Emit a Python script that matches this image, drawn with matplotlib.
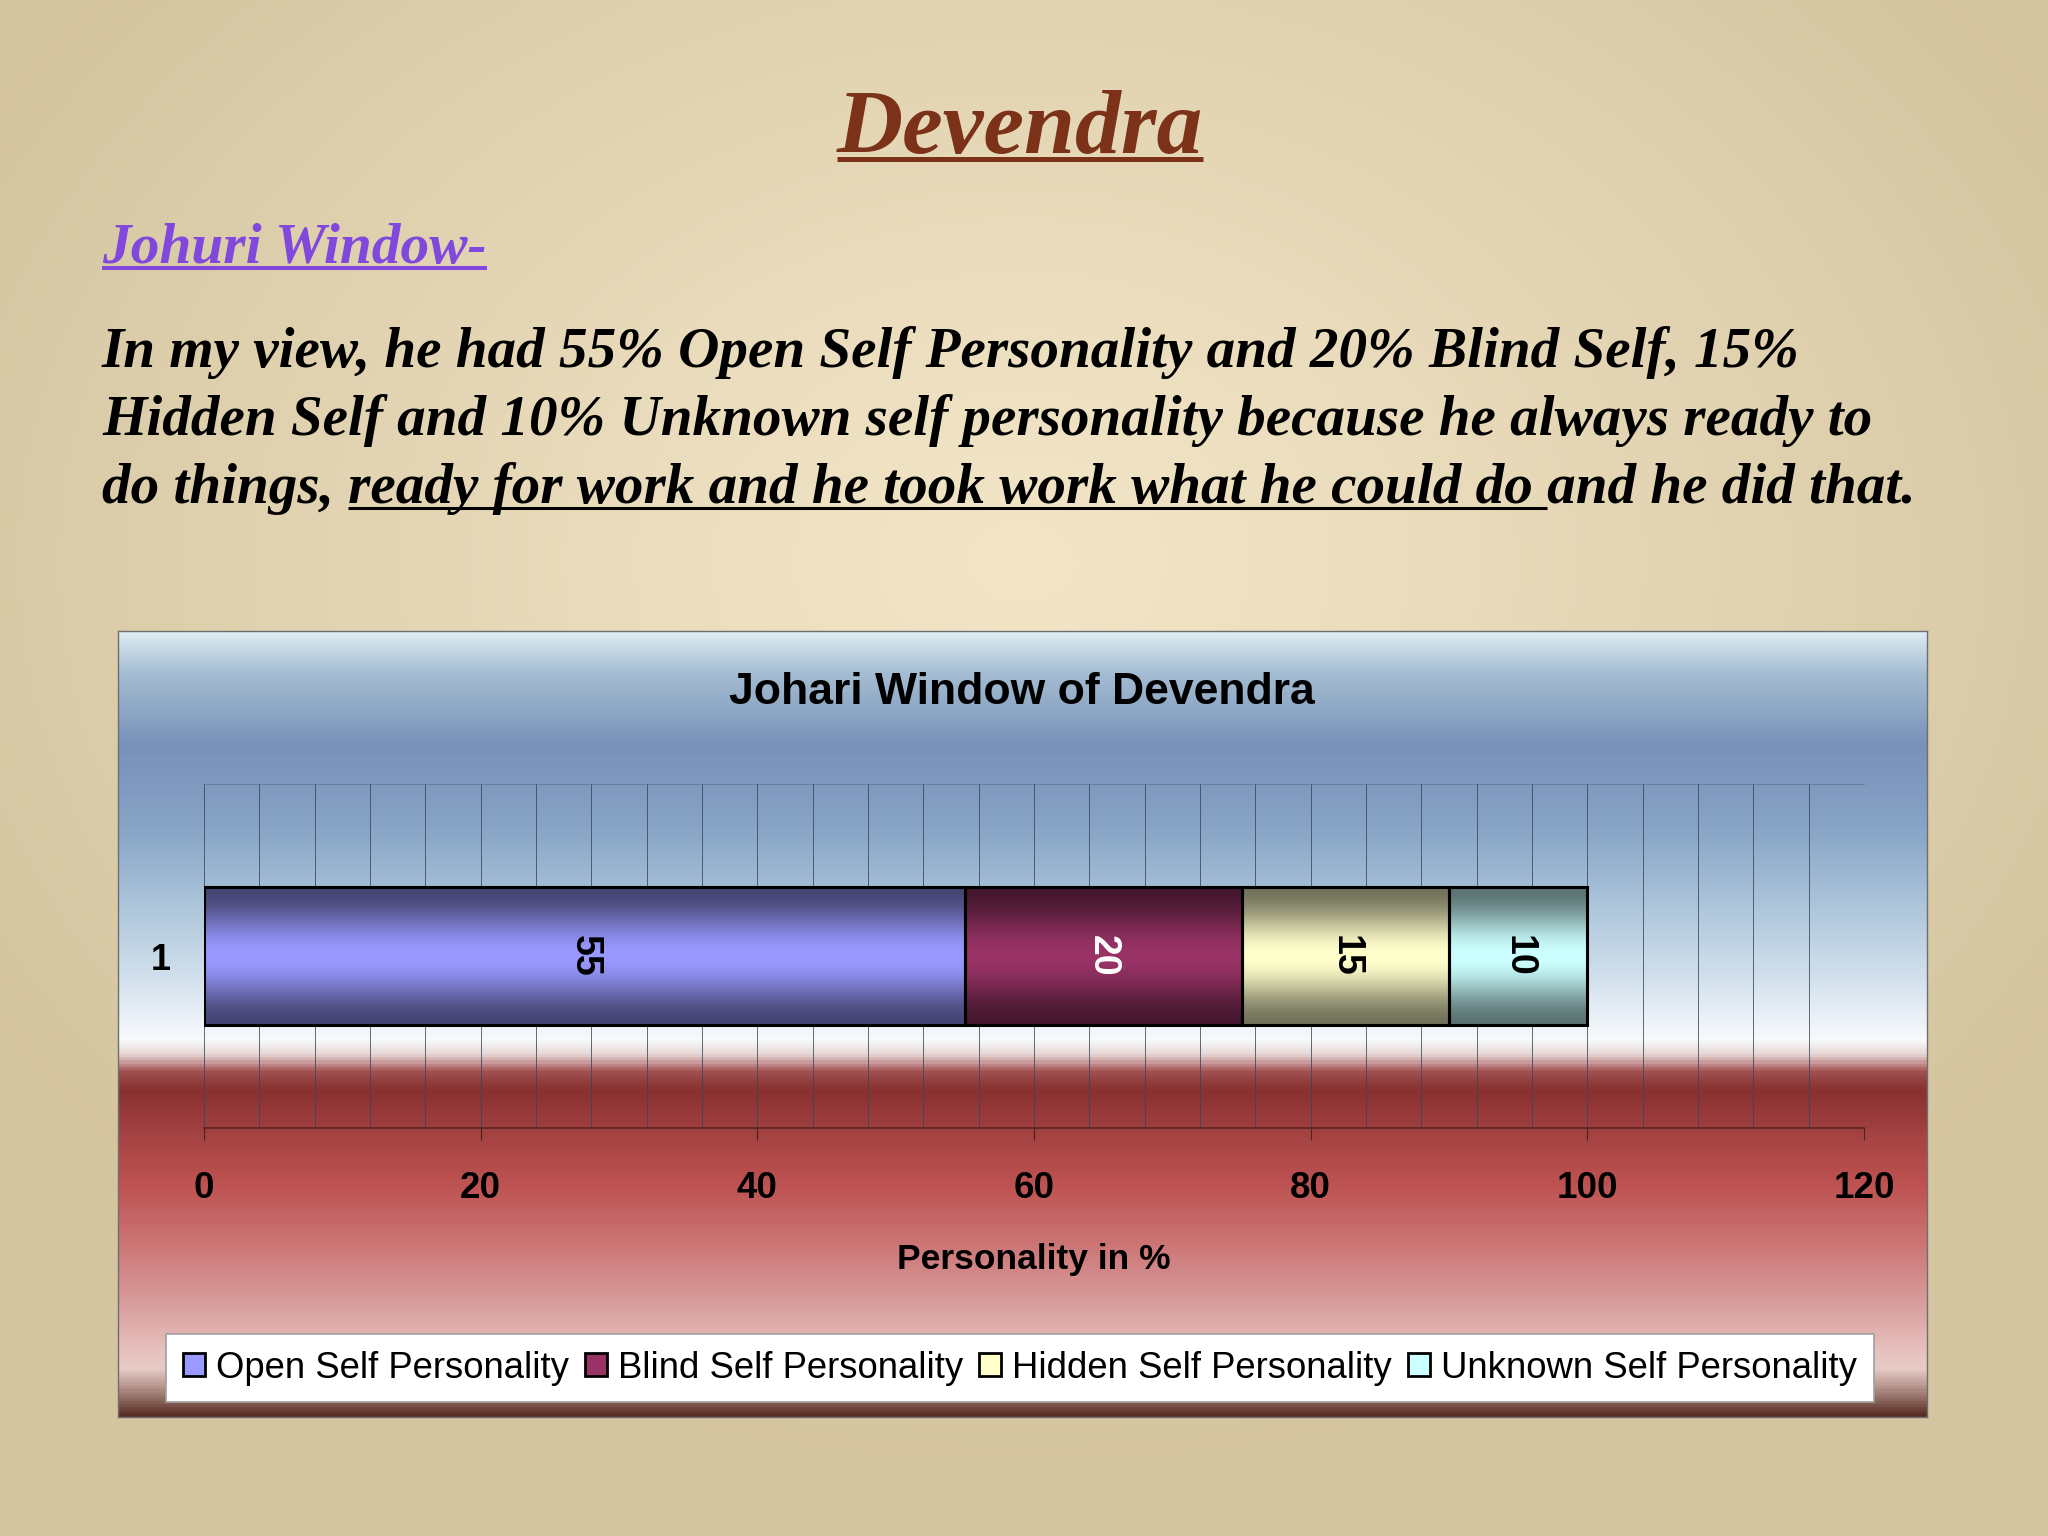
import numpy as np
import matplotlib
matplotlib.use('Agg')
import matplotlib.pyplot as plt
from matplotlib.colors import LinearSegmentedColormap, to_rgb
from matplotlib.lines import Line2D
from matplotlib.ticker import MultipleLocator

# ---- data ----
categories = ['1']
series = ['Open Self Personality', 'Blind Self Personality',
          'Hidden Self Personality', 'Unknown Self Personality']
values = [55, 20, 15, 10]
bar_colors = ['#9999FF', '#993366', '#FFFFCC', '#CCFFFF']
label_colors = ['black', 'white', 'black', 'black']
x_ticks = [0, 20, 40, 60, 80, 100, 120]

page_title = 'Devendra'
subtitle = 'Johuri Window-'
para_lines = [
    'In my view, he had 55% Open Self Personality and 20% Blind Self, 15%',
    'Hidden Self and 10% Unknown self personality because he always ready to',
    'do things, ready for work and he took work what he could do and he did that.',
]
underlined_part = 'ready for work and he took work what he could do '
chart_title = 'Johari Window of Devendra'
x_label = 'Personality in %'

W, H = 2048, 1536
fig = plt.figure(figsize=(W / 100, H / 100), dpi=100)


def fx(px):
    return px / W


def fy(py):
    return 1 - py / H


# ---- page background (soft radial beige) ----
ax_page = fig.add_axes([0, 0, 1, 1], zorder=-10)
yy, xx = np.mgrid[0:H:4, 0:W:4]
d = np.sqrt(((xx - 1020) / 1200.0) ** 2 + ((yy - 560) / 900.0) ** 2)
d = np.clip(d, 0, 1) ** 1.1
c_in = np.array(to_rgb('#F3E6C8'))
c_out = np.array(to_rgb('#D4C5A0'))
bg = c_in[None, None, :] * (1 - d[..., None]) + c_out[None, None, :] * d[..., None]
ax_page.imshow(bg, extent=[0, 1, 0, 1], aspect='auto', interpolation='bilinear')
ax_page.axis('off')

# ---- chart area background gradient ----
box_l, box_r, box_t, box_b = 118, 1927, 631, 1417
ax_bg = fig.add_axes([fx(box_l), fy(box_b), (box_r - box_l) / W, (box_b - box_t) / H], zorder=-5)
stops = [
    (0.000, '#DDEBF3'), (0.052, '#A4BDD2'), (0.144, '#7891B9'), (0.249, '#87A4C6'),
    (0.354, '#AFC7DC'), (0.447, '#D5E2EE'), (0.520, '#F8FAFC'), (0.540, '#E6D4D2'),
    (0.560, '#A25252'), (0.584, '#883030'), (0.648, '#A84444'), (0.705, '#BE5252'),
    (0.775, '#CB7272'), (0.859, '#D99E9E'), (0.915, '#E6C0BC'), (0.940, '#E8CCC8'),
    (0.960, '#BFA098'), (1.000, '#5A3026'),
]
cmap = LinearSegmentedColormap.from_list('chartbg', stops)
grad = np.linspace(0, 1, 800)[:, None]
ax_bg.imshow(grad, cmap=cmap, aspect='auto', extent=[0, 1, 0, 1], interpolation='bilinear')
ax_bg.set_xticks([])
ax_bg.set_yticks([])
for sp in ax_bg.spines.values():
    sp.set_color('#6E6E6E')
    sp.set_linewidth(1.0)

# ---- main axes ----
ax = fig.add_axes([fx(204), fy(1128), (1864 - 204) / W, (1128 - 784) / H], zorder=1)
ax.set_facecolor('none')

bar_h = 0.4
lefts = np.concatenate([[0], np.cumsum(values)[:-1]])
containers = []
for name, v, left, col in zip(series, values, lefts, bar_colors):
    c = ax.barh(categories, [v], left=[left], height=bar_h, color=col,
                edgecolor='black', linewidth=2, label=name, zorder=2)
    containers.append(c)

# cylinder shading on each bar, clipped to the bar
t = np.linspace(0, 1, 200)
shade = 0.45 + 0.55 * np.sin(np.pi * t) ** 2
for c, col in zip(containers, bar_colors):
    rgb = np.array(to_rgb(col))
    img = (shade[:, None, None] * rgb[None, None, :])
    for p in c.patches:
        x0, y0 = p.get_x(), p.get_y()
        im = ax.imshow(img, extent=[x0, x0 + p.get_width(), y0, y0 + p.get_height()],
                       aspect='auto', zorder=2.5, interpolation='bilinear')
        im.set_clip_path(p)

# crisp outlines on top
for v, left in zip(values, lefts):
    ax.barh(categories, [v], left=[left], height=bar_h, fill=False,
            edgecolor='black', linewidth=2.2, zorder=3)

for c, v, lc in zip(containers, values, label_colors):
    ax.bar_label(c, labels=[str(v)], label_type='center', rotation=270,
                 fontsize=27, fontweight='bold', color=lc, family='Liberation Sans', zorder=4)

ax.set_xlim(0, 120)
ax.set_ylim(-0.5, 0.5)
ax.set_xticks(x_ticks)
ax.xaxis.set_minor_locator(MultipleLocator(4))
ax.set_axisbelow(True)
ax.grid(which='both', axis='x', color='#34465A', linewidth=0.7, alpha=0.8, zorder=0)
ax.tick_params(axis='x', which='major', length=8.6, width=0.8, color='#4A2020',
               pad=22, labelsize=26.5)
ax.tick_params(axis='x', which='minor', length=0)
ax.tick_params(axis='y', length=0, pad=24, labelsize=26)
for lab in ax.get_xticklabels() + ax.get_yticklabels():
    lab.set_fontweight('bold')
    lab.set_family('Liberation Sans')
ax.set_xlabel(x_label, fontsize=25.5, fontweight='bold', family='Liberation Sans', labelpad=27)
ax.spines['left'].set_visible(False)
ax.spines['right'].set_visible(False)
ax.spines['top'].set_color('#55677A')
ax.spines['top'].set_linewidth(0.6)
ax.spines['top'].set_alpha(0.6)
ax.spines['bottom'].set_color('#5A2424')
ax.spines['bottom'].set_linewidth(1.2)

fig.text(fx(1022), fy(693), chart_title, ha='center', va='center', fontsize=32,
         fontweight='bold', family='Liberation Sans', color='black')

leg = fig.legend([c.patches[0] for c in containers], series, loc='center',
                 bbox_to_anchor=(fx(1020), fy(1368)), ncol=4,
                 prop={'family': 'Liberation Sans', 'size': 26.3},
                 handlelength=0.6, handleheight=0.6, handletextpad=0.3,
                 columnspacing=0.45, borderpad=0.45, borderaxespad=0,
                 frameon=True, fancybox=False, framealpha=1,
                 facecolor='white', edgecolor='#A0A0A0')
leg.get_frame().set_linewidth(1.2)
leg.set_zorder(5)

# ---- page text ----
serif = dict(family='Liberation Serif', fontweight='bold', style='italic')
para_size = 41.1
t_title = fig.text(fx(1020), fy(153), page_title, ha='center', va='baseline',
                   fontsize=66, color='#7B3219', **serif)
t_sub = fig.text(fx(102), fy(263), subtitle, ha='left', va='baseline',
                 fontsize=41.3, color='#8048DC', **serif)
para_texts = []
for i, line in enumerate(para_lines):
    para_texts.append(fig.text(fx(102), fy(367 + 68 * i), line, ha='left', va='baseline',
                               fontsize=para_size, color='black', **serif))

fig.canvas.draw()
r = fig.canvas.get_renderer()


def add_underline(x0, x1, y_px_from_top, lw, color):
    fig.add_artist(Line2D([x0 / W, x1 / W], [fy(y_px_from_top)] * 2,
                          transform=fig.transFigure, color=color, linewidth=lw,
                          solid_capstyle='butt'))


bb = t_title.get_window_extent(r)
add_underline(bb.x0, bb.x1, 159, 3.6, '#7B3219')
bb = t_sub.get_window_extent(r)
add_underline(bb.x0, bb.x1, 268, 2.9, '#8048DC')


def text_width(s):
    tmp = fig.text(0, 0, s + 'x', fontsize=para_size, **serif)
    tmp2 = fig.text(0, 0, 'x', fontsize=para_size, **serif)
    w = tmp.get_window_extent(r).width - tmp2.get_window_extent(r).width
    tmp.remove()
    tmp2.remove()
    return w


line3 = para_lines[2]
start = line3.index(underlined_part)
bb = para_texts[2].get_window_extent(r)
u0 = bb.x0 + text_width(line3[:start])
u1 = bb.x0 + text_width(line3[:start + len(underlined_part)])
add_underline(u0, u1, 508, 2.2, 'black')

fig.savefig('out.png', dpi=100)
